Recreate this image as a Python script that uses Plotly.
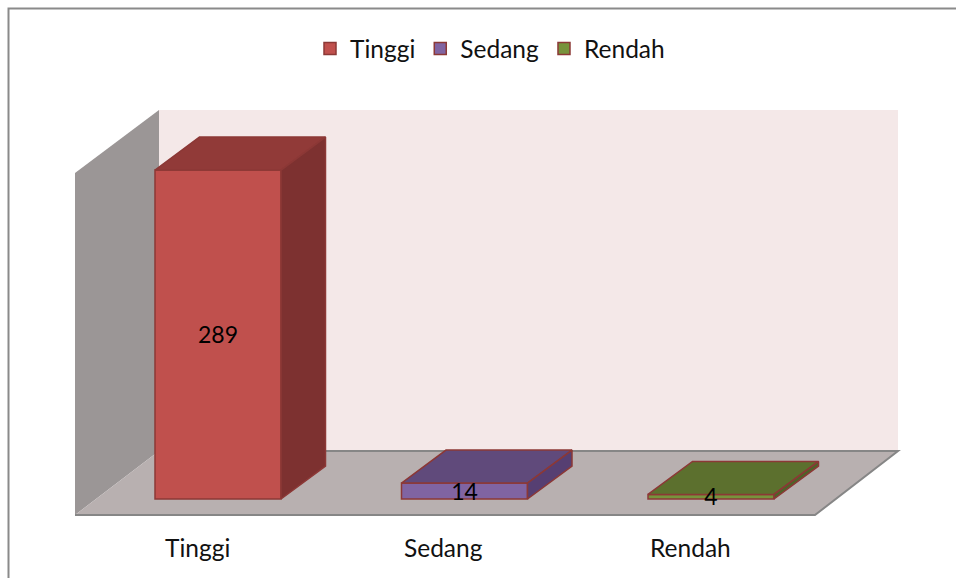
import plotly.graph_objects as go

categories = ["Tinggi", "Sedang", "Rendah"]
values = [289, 14, 4]
front_colors = ["#c0504d", "#8064a2", "#77933c"]
top_colors = ["#913a38", "#604a7b", "#5c702e"]
side_colors = ["#7d3130", "#563f72", "#4f6228"]

W, H = 956, 578
PX_X = 246.5          # pixels per category step
PX_Y = 1.138          # pixels per value unit
X0_PX, Y0_PX = 218, 499
BAR_W = 126 / PX_X
DX = 44.5 / PX_X      # depth offset in axis units
DY = 33 / PX_Y
LABEL_DROP = 3 / PX_Y
EDGE = "#8c3836"
FONT = "Lato, Carlito, 'Open Sans', sans-serif"

fig = go.Figure()

def px(xp, yp):
    return xp / W, 1 - yp / H

def poly(points, fill, line=None, width=1.5):
    path = "M " + " L ".join(f"{x:.5f},{y:.5f}" for x, y in (px(*p) for p in points)) + " Z"
    return dict(type="path", xref="paper", yref="paper", path=path, fillcolor=fill,
                line=dict(color=line or fill, width=width if line else 0), layer="below")

shapes = [
    dict(type="rect", xref="paper", yref="paper", x0=px(8.5, 0)[0], x1=1.05, y0=-0.05, y1=px(0, 8.5)[1],
         line=dict(color="#8a8a8a", width=2), fillcolor="white", layer="below"),
    poly([(159, 110), (898, 110), (898, 451), (159, 451)], "#f4e8e8"),
    poly([(75, 173), (159, 110), (159, 451), (75, 515)], "#9b9696"),
    poly([(75, 515), (159, 451), (898, 451), (815, 515)], "#b8b0b0"),
    dict(type="path", xref="paper", yref="paper",
         path="M {},{} L {},{} L {},{} L {},{}".format(*px(75, 515), *px(815, 515), *px(898, 451), *px(159, 451)),
         line=dict(color="#868686", width=2), layer="below"),
]

# front faces
for i, (c, v) in enumerate(zip(categories, values)):
    fig.add_trace(go.Bar(x=[i], y=[v], name=c, width=BAR_W, showlegend=True,
                         marker=dict(color=front_colors[i], line=dict(color=EDGE, width=1.5))))

# top and side faces
for i, v in enumerate(values):
    l, r = i - BAR_W / 2, i + BAR_W / 2
    fig.add_trace(go.Scatter(x=[l, r, r + DX, l + DX, l], y=[v, v, v + DY, v + DY, v], mode="lines",
                             fill="toself", fillcolor=top_colors[i], line=dict(color=EDGE, width=1.5),
                             showlegend=False, hoverinfo="skip"))
    fig.add_trace(go.Scatter(x=[r, r + DX, r + DX, r, r], y=[0, DY, v + DY, v, 0], mode="lines",
                             fill="toself", fillcolor=side_colors[i], line=dict(color=EDGE, width=1.5),
                             showlegend=False, hoverinfo="skip"))

# data labels
fig.add_trace(go.Scatter(x=list(range(3)), y=[v / 2 - LABEL_DROP for v in values], mode="text",
                         text=[str(v) for v in values], textposition="middle center",
                         textfont=dict(family=FONT, size=23, color="black"),
                         showlegend=False, hoverinfo="skip"))

# category labels
for i, c in enumerate(categories):
    fig.add_annotation(x=i - 0.085, y=(Y0_PX - 547.5) / PX_Y, text=c, showarrow=False,
                       font=dict(family=FONT, size=24.5, color="#111111"))

fig.update_layout(
    width=W, height=H, margin=dict(l=0, r=0, t=0, b=0), paper_bgcolor="white", plot_bgcolor="rgba(0,0,0,0)",
    shapes=shapes, barmode="overlay", showlegend=True,
    font=dict(family=FONT, size=23, color="#111111"),
    legend=dict(orientation="h", x=490 / W, xanchor="center", y=px(0, 26)[1], yanchor="top",
                bgcolor="rgba(0,0,0,0)", font=dict(family=FONT, size=24.5), itemclick=False, itemdoubleclick=False),
    xaxis=dict(visible=False, range=[-X0_PX / PX_X, (W - X0_PX) / PX_X], fixedrange=True),
    yaxis=dict(visible=False, range=[(Y0_PX - H) / PX_Y, Y0_PX / PX_Y], fixedrange=True),
)
fig.write_html("out.html", config={"displayModeBar": False}, post_script="document.body.style.margin='0';")
